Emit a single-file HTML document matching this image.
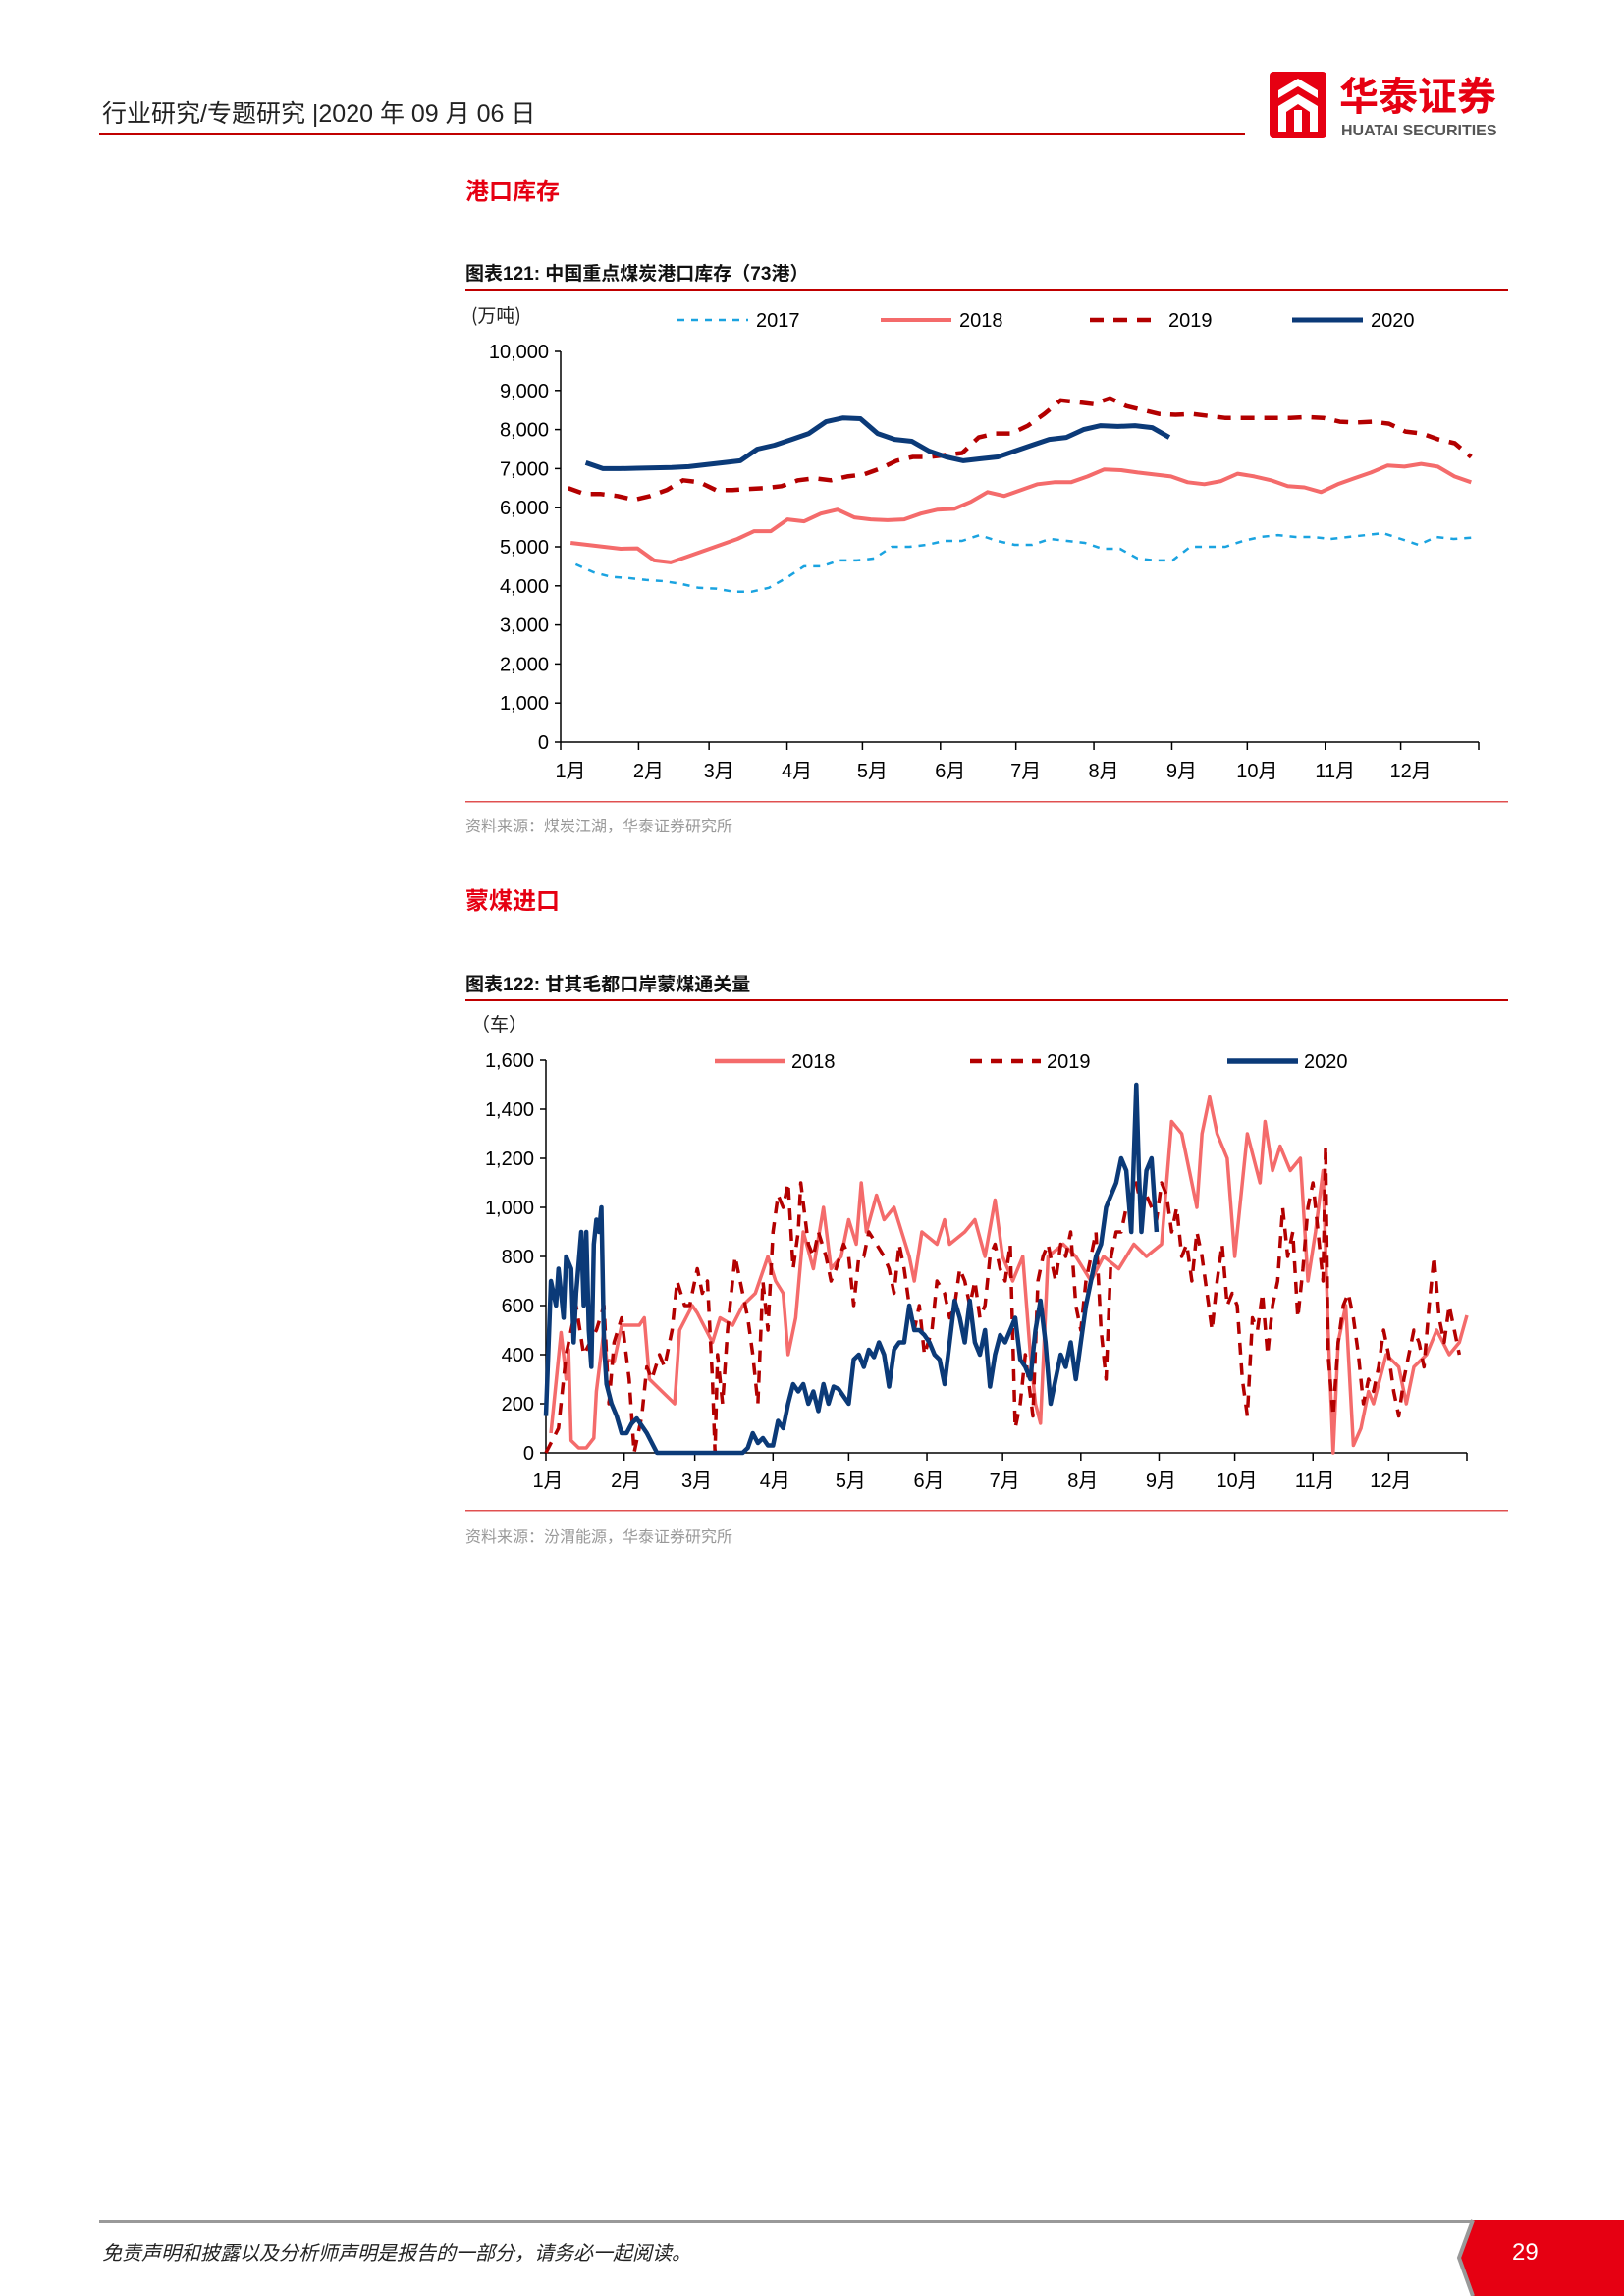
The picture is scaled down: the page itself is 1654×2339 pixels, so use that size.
<!DOCTYPE html>
<html><head><meta charset="utf-8">
<style>
html,body{margin:0;padding:0;background:#fff;}
body{width:1654px;height:2339px;position:relative;overflow:hidden;font-family:"Liberation Sans","Noto Sans CJK SC",sans-serif;}
svg{position:absolute;left:0;top:0;}
</style></head>
<body>
<svg id="page" width="1654" height="2339" viewBox="0 0 1654 2339">
  <g>
    <text x="104" y="124" font-size="25" fill="#222" font-family="Liberation Sans, Noto Sans CJK SC, sans-serif">行业研究/专题研究 |2020 年 09 月 06 日</text>
    <rect x="101" y="135" width="1167" height="3" fill="#c00000"/>
    <g>
      <rect x="1293" y="73" width="58" height="68" rx="4" fill="#e60012"/>
      <path d="M1302 92 L1322 80 L1342 92 L1342 100 L1322 88 L1302 100 Z M1302 108 L1322 96 L1342 108 L1342 134 L1334 134 L1334 114 L1322 106 L1310 114 L1310 134 L1302 134 Z" fill="#fff"/>
      <rect x="1318" y="112" width="8" height="22" fill="#fff"/>
      <text x="1364" y="112" font-size="40" font-weight="bold" fill="#e60012" font-family="Noto Sans CJK SC, sans-serif">华泰证券</text>
      <text x="1366" y="138" font-size="16" font-weight="bold" fill="#555" font-family="Liberation Sans, sans-serif">HUATAI SECURITIES</text>
    </g>
  </g>

  <text x="474" y="203" font-size="24" font-weight="bold" fill="#e60012" font-family="Noto Sans CJK SC, sans-serif">港口库存</text>
  <text x="474" y="285" font-size="19" font-weight="bold" fill="#111" font-family="Liberation Sans, Noto Sans CJK SC, sans-serif">图表121:  中国重点煤炭港口库存（73港）</text>
  <rect x="474" y="294" width="1062" height="2" fill="#c00000"/>
  <g id="chart1"></g>
  <rect x="474" y="816" width="1062" height="1.5" fill="#e05050"/>
  <text x="474" y="847" font-size="16" fill="#999" font-family="Noto Sans CJK SC, sans-serif">资料来源：煤炭江湖，华泰证券研究所</text>

  <text x="474" y="926" font-size="24" font-weight="bold" fill="#e60012" font-family="Noto Sans CJK SC, sans-serif">蒙煤进口</text>
  <text x="474" y="1009" font-size="19" font-weight="bold" fill="#111" font-family="Liberation Sans, Noto Sans CJK SC, sans-serif">图表122:  甘其毛都口岸蒙煤通关量</text>
  <rect x="474" y="1018" width="1062" height="2" fill="#c00000"/>
  <g id="chart2"></g>
  <rect x="474" y="1538" width="1062" height="1.5" fill="#e05050"/>
  <text x="474" y="1571" font-size="16" fill="#999" font-family="Noto Sans CJK SC, sans-serif">资料来源：汾渭能源，华泰证券研究所</text>

  <g>
    <rect x="101" y="2262" width="1400" height="3" fill="#999"/>
    <path d="M1500 2262 L1654 2262 L1654 2339 L1500 2339 L1486 2300 Z" fill="#e60012"/>
    <path d="M1500 2262 L1486 2300 L1500 2339" stroke="#999" stroke-width="4" fill="none"/>
    <text x="1540" y="2302" font-size="24" fill="#fff">29</text>
    <text x="104" y="2302" font-size="20" font-style="italic" fill="#222" font-family="Noto Sans CJK SC, sans-serif">免责声明和披露以及分析师声明是报告的一部分，请务必一起阅读。</text>
  </g>
</svg>
<script>
// ---------- Chart 1 data ----------
const months = ["1月","2月","3月","4月","5月","6月","7月","8月","9月","10月","11月","12月"];
const monthStartDays = [0,31,59,90,120,151,181,212,243,273,304,334];
const c1Ticks = [0,1000,2000,3000,4000,5000,6000,7000,8000,9000,10000];
const c1TickLabels = ["0","1,000","2,000","3,000","4,000","5,000","6,000","7,000","8,000","9,000","10,000"];
const c1Years = ["2017","2018","2019","2020"];
const s2017 = [4550,4350,4230,4200,4150,4120,4050,3950,3930,3850,3850,3950,4200,4500,4500,4650,4650,4700,5000,5000,5050,5150,5150,5300,5150,5050,5050,5200,5150,5100,4950,4950,4700,4650,4650,5000,5000,5000,5150,5250,5300,5250,5250,5200,5250,5300,5350,5200,5050,5250,5200,5230];
const s2017Span = [6,362];
const s2018 = [5100,5050,5000,4950,4960,4650,4600,4750,4900,5050,5200,5400,5400,5700,5650,5850,5950,5750,5700,5680,5700,5850,5950,5970,6150,6400,6300,6450,6600,6650,6650,6800,6980,6960,6900,6850,6800,6650,6600,6680,6870,6800,6700,6550,6520,6400,6600,6750,6900,7080,7050,7120,7050,6800,6650];
const s2018Span = [4,362];
const s2019 = [6500,6350,6350,6300,6200,6300,6450,6700,6650,6450,6450,6480,6500,6550,6700,6750,6700,6800,6850,7000,7200,7300,7300,7350,7400,7800,7900,7900,8100,8400,8750,8700,8650,8800,8600,8500,8400,8380,8400,8350,8300,8300,8300,8300,8300,8320,8300,8200,8180,8200,8150,7950,7900,7750,7650,7300];
const s2019Span = [3,362];
const s2020 = [7150,7000,7000,7010,7020,7030,7050,7100,7150,7200,7500,7600,7750,7900,8200,8300,8280,7900,7750,7700,7450,7300,7200,7250,7300,7450,7600,7750,7800,8000,8100,8080,8100,8050,7800];
const s2020Span = [10,242];

// ---------- Chart 2 data ----------
const c2Ticks = [0,200,400,600,800,1000,1200,1400,1600];
const c2TickLabels = ["0","200","400","600","800","1,000","1,200","1,400","1,600"];
const c2Years = ["2018","2019","2020"];
const m2018Days = [2,6,7,8,9,10,13,16,19,20,23,24,27,30,37,39,41,46,51,53,58,60,66,69,74,78,83,88,91,94,96,99,102,106,110,113,117,120,123,125,127,131,134,138,144,146,149,155,158,160,166,170,174,178,181,185,189,192,194,196,199,205,210,216,221,227,233,238,244,248,252,255,258,260,263,266,270,273,278,283,285,288,291,295,299,302,305,308,310,312,314,317,320,323,326,328,333,338,341,344,349,353,358,362,365];
const m2018Vals = [80,490,400,300,420,50,20,20,60,250,500,380,370,520,520,550,300,250,200,500,600,570,450,550,520,600,650,800,700,650,400,550,900,750,1000,750,800,950,850,1100,900,1050,950,1000,800,700,900,850,950,850,900,950,800,1030,800,700,800,400,200,120,800,850,800,700,800,750,850,800,850,1350,1300,1150,1000,1300,1450,1300,1200,800,1300,1100,1350,1150,1250,1150,1200,700,900,1150,500,0,450,600,30,100,250,200,400,350,200,350,400,500,400,450,560];
const m2019Days = [0,5,8,12,15,20,23,25,27,30,33,35,38,40,42,45,47,50,52,55,57,60,62,64,66,67,68,70,72,75,78,80,82,84,86,88,90,92,94,96,98,100,101,104,106,108,111,113,115,118,120,122,124,126,128,131,134,136,138,140,142,144,146,148,150,153,155,158,160,162,164,166,168,170,172,174,176,178,180,182,184,186,188,190,193,195,197,199,202,204,206,208,210,212,214,216,218,220,222,224,226,228,230,232,234,236,238,240,242,244,246,248,250,252,254,256,258,260,262,264,266,268,270,272,274,276,278,280,282,284,286,288,290,292,294,296,298,300,302,304,306,308,309,310,312,314,316,318,320,322,324,326,328,330,332,334,336,338,340,342,344,346,348,350,352,354,356,358,360,362];
const m2019Vals = [0,100,400,600,400,500,600,200,450,550,300,0,150,350,300,400,350,500,700,600,600,750,650,700,300,0,400,200,500,800,650,550,400,200,700,500,900,1050,1000,1100,750,900,1100,850,800,900,800,700,750,850,800,600,800,800,900,850,800,750,650,850,750,600,500,600,400,500,700,650,550,600,750,700,600,700,550,600,800,850,750,700,850,100,200,400,150,700,800,850,700,850,800,900,600,500,700,800,900,500,300,800,900,900,1000,1050,1100,1000,1050,1000,950,1100,1050,900,1000,800,850,700,900,800,650,500,700,850,600,650,600,300,150,550,500,650,400,600,700,1000,800,900,550,750,1000,1100,900,700,1250,400,150,450,600,650,550,400,200,300,250,350,500,400,250,150,300,400,500,450,350,600,800,550,450,600,500,400];
const m2020Days = [0,2,4,5,7,8,10,11,12,14,15,16,17,18,19,20,21,22,23,24,26,28,30,32,34,36,38,40,44,50,60,70,78,80,82,84,86,88,90,92,94,96,98,100,102,104,106,108,110,112,114,116,118,120,122,124,126,128,130,132,134,136,138,140,142,144,146,148,150,152,154,156,158,160,162,164,166,168,170,172,174,176,178,180,182,184,186,188,190,192,194,196,198,200,202,204,206,208,210,212,214,216,218,220,222,224,226,228,230,232,234,235,236,238,240,242];
const m2020Vals = [150,700,600,750,550,800,750,450,650,900,600,900,500,350,850,950,900,1000,450,280,200,150,80,80,120,140,110,80,0,0,0,0,0,20,80,40,60,30,30,130,100,200,280,250,280,200,250,170,280,200,270,260,230,200,380,400,350,420,390,450,400,270,420,450,450,600,500,500,480,450,400,380,280,450,620,550,450,620,450,400,500,270,400,480,450,500,550,380,350,300,500,620,450,200,300,400,350,450,300,450,600,700,800,850,1000,1050,1100,1200,1150,900,1500,1150,900,1150,1200,900];

const NS = "http://www.w3.org/2000/svg";
function mk(parent, tag, attrs) {
  const e = document.createElementNS(NS, tag);
  for (const k in attrs) e.setAttribute(k, attrs[k]);
  parent.appendChild(e);
  return e;
}
const tickFont = "Liberation Sans, DejaVu Sans, sans-serif";

// ---------- Chart 1 ----------
(function(){
  const g = document.getElementById('chart1');
  const X0 = 571, X1 = 1506, Y0 = 756, Y1 = 358;
  const xS = d => X0 + d / 365 * (X1 - X0);
  const yS = v => Y0 - v / 10000 * (Y0 - Y1);
  const u = mk(g, 'text', {x: 480, y: 328, 'font-size': 19, fill: '#222', 'font-family': 'Noto Sans CJK SC, sans-serif'});
  u.textContent = '(万吨)';
  
  
  c1Ticks.forEach((t, i) => {
    const tk = mk(g, 'line', {x1: X0 - 6, x2: X0, y1: yS(t), y2: yS(t), stroke: '#000', 'stroke-width': 1.5});
    
    
    const lb = mk(g, 'text', {x: X0 - 12, y: yS(t) + 7, 'font-size': 20, 'text-anchor': 'end', fill: '#000', 'font-family': tickFont});
    lb.textContent = c1TickLabels[i];
    
    
  });
  const ya = mk(g, 'line', {x1: X0, x2: X0, y1: Y1, y2: Y0, stroke: '#000', 'stroke-width': 1.5});
  
  
  const xa = mk(g, 'line', {x1: X0, x2: X1, y1: Y0, y2: Y0, stroke: '#000', 'stroke-width': 1.5});
  
  
  monthStartDays.concat([365]).forEach(d => {
    const tk = mk(g, 'line', {x1: xS(d), x2: xS(d), y1: Y0, y2: Y0 + 8, stroke: '#000', 'stroke-width': 1.5});
    
    
  });
  months.forEach((m, i) => {
    const lb = mk(g, 'text', {x: xS(monthStartDays[i]) + 10, y: 792, 'font-size': 20, 'text-anchor': 'middle', fill: '#000', 'font-family': 'Liberation Sans, Noto Sans CJK SC, sans-serif'});
    lb.textContent = m;
    
    
  });
  const series = [
    {vals: s2017, span: s2017Span, color: '#1aa3e0', w: 2.5, dash: '7,7'},
    {vals: s2018, span: s2018Span, color: '#f46b6b', w: 4, dash: ''},
    {vals: s2019, span: s2019Span, color: '#b30000', w: 4.5, dash: '14,10'},
    {vals: s2020, span: s2020Span, color: '#0b3a78', w: 5, dash: ''}
  ];
  const legX = [690, 897, 1110, 1316];
  series.forEach((s, si) => {
    const n = s.vals.length;
    const pts = s.vals.map((v, i) => {
      const d = s.span[0] + i * (s.span[1] - s.span[0]) / (n - 1);
      return xS(d).toFixed(1) + ',' + yS(v).toFixed(1);
    }).join(' ');
    const pl = mk(g, 'polyline', {points: pts, fill: 'none', stroke: s.color, 'stroke-width': s.w, 'stroke-dasharray': s.dash, 'stroke-linejoin': 'round'});
    
    
    const ll = mk(g, 'line', {x1: legX[si], x2: legX[si] + 72, y1: 326, y2: 326, stroke: s.color, 'stroke-width': s.w, 'stroke-dasharray': s.dash});
    
    
    const lt = mk(g, 'text', {x: legX[si] + 80, y: 333, 'font-size': 20, fill: '#000', 'font-family': tickFont});
    lt.textContent = c1Years[si];
    
    
  });
})();

// ---------- Chart 2 ----------
(function(){
  const g = document.getElementById('chart2');
  const X0 = 556, X1 = 1494, Y0 = 1480, Y1 = 1080;
  const xS = d => X0 + d / 365 * (X1 - X0);
  const yS = v => Y0 - v / 1600 * (Y0 - Y1);
  const u = mk(g, 'text', {x: 480, y: 1050, 'font-size': 19, fill: '#222', 'font-family': 'Noto Sans CJK SC, sans-serif'});
  u.textContent = '（车）';
  
  
  c2Ticks.forEach((t, i) => {
    const tk = mk(g, 'line', {x1: X0 - 6, x2: X0, y1: yS(t), y2: yS(t), stroke: '#000', 'stroke-width': 1.5});
    
    
    const lb = mk(g, 'text', {x: X0 - 12, y: yS(t) + 7, 'font-size': 20, 'text-anchor': 'end', fill: '#000', 'font-family': tickFont});
    lb.textContent = c2TickLabels[i];
    
    
  });
  const ya = mk(g, 'line', {x1: X0, x2: X0, y1: Y1, y2: Y0, stroke: '#000', 'stroke-width': 1.5});
  
  
  const xa = mk(g, 'line', {x1: X0, x2: X1, y1: Y0, y2: Y0, stroke: '#000', 'stroke-width': 1.5});
  
  
  monthStartDays.concat([365]).forEach(d => {
    const tk = mk(g, 'line', {x1: xS(d), x2: xS(d), y1: Y0, y2: Y0 + 8, stroke: '#000', 'stroke-width': 1.5});
    
    
  });
  months.forEach((m, i) => {
    const lb = mk(g, 'text', {x: xS(monthStartDays[i]) + 2, y: 1515, 'font-size': 20, 'text-anchor': 'middle', fill: '#000', 'font-family': 'Liberation Sans, Noto Sans CJK SC, sans-serif'});
    lb.textContent = m;
    
    
  });
  const series = [
    {days: m2018Days, vals: m2018Vals, color: '#f46b6b', w: 3.5, dash: ''},
    {days: m2019Days, vals: m2019Vals, color: '#b30000', w: 3.5, dash: '12,9'},
    {days: m2020Days, vals: m2020Vals, color: '#0b3a78', w: 4.5, dash: ''}
  ];
  const legX = [728, 988, 1250];
  series.forEach((s, si) => {
    const pts = s.vals.map((v, i) => xS(s.days[i]).toFixed(1) + ',' + yS(v).toFixed(1)).join(' ');
    const pl = mk(g, 'polyline', {points: pts, fill: 'none', stroke: s.color, 'stroke-width': s.w, 'stroke-dasharray': s.dash, 'stroke-linejoin': 'round'});
    
    
    const ll = mk(g, 'line', {x1: legX[si], x2: legX[si] + 72, y1: 1081, y2: 1081, stroke: s.color, 'stroke-width': s.w + 1, 'stroke-dasharray': s.dash});
    
    
    const lt = mk(g, 'text', {x: legX[si] + 78, y: 1088, 'font-size': 20, fill: '#000', 'font-family': tickFont});
    lt.textContent = c2Years[si];
    
    
  });
})();
</script>
</body></html>
